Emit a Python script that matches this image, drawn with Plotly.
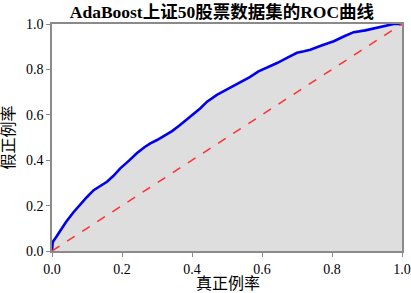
import plotly.graph_objects as go

fpr = [0.0, 0.0, 0.002, 0.012, 0.024, 0.040, 0.062, 0.086, 0.100, 0.119, 0.140, 0.157, 0.175,
       0.195, 0.220, 0.243, 0.265, 0.281, 0.300, 0.320, 0.343, 0.365, 0.386, 0.410, 0.424,
       0.443, 0.471, 0.500, 0.538, 0.565, 0.590, 0.615, 0.643, 0.670, 0.700, 0.720, 0.738,
       0.770, 0.805, 0.835, 0.862, 0.895, 0.929, 0.955, 0.976, 1.0]
tpr = [0.0, 0.030, 0.039, 0.062, 0.091, 0.128, 0.172, 0.216, 0.238, 0.268, 0.290, 0.305, 0.330,
       0.364, 0.398, 0.432, 0.458, 0.474, 0.489, 0.508, 0.528, 0.554, 0.580, 0.612, 0.629,
       0.658, 0.688, 0.712, 0.742, 0.766, 0.791, 0.808, 0.828, 0.850, 0.873, 0.880, 0.887,
       0.905, 0.924, 0.946, 0.964, 0.972, 0.983, 0.992, 1.0, 1.0]
diag = [0.0, 1.0]
ticks = [0.0, 0.2, 0.4, 0.6, 0.8, 1.0]
tick_text = ["0.0", "0.2", "0.4", "0.6", "0.8", "1.0"]
x_title = "真正例率"
y_title = "假正例率"
chart_title = "AdaBoost上证50股票数据集的ROC曲线"

serif = "Liberation Serif, Times New Roman, Noto Sans CJK SC, serif"

fig = go.Figure()
fig.add_trace(go.Scatter(x=fpr, y=tpr, mode="lines", fill="tozeroy",
                         fillcolor="#dedede", line=dict(color="#0000ee", width=2.6),
                         showlegend=False))
fig.add_trace(go.Scatter(x=diag, y=diag, mode="lines",
                         line=dict(color="#ff3030", width=1.5, dash="dash"),
                         showlegend=False))

axis_common = dict(range=[0, 1], tickvals=ticks, ticktext=tick_text, showgrid=False,
                   zeroline=False, showline=True, linecolor="#8a8a8a", linewidth=1.5,
                   mirror=True, ticks="outside", ticklen=4, tickcolor="#8a8a8a",
                   automargin=False,
                   tickfont=dict(family=serif, size=14, color="black"))

fig.update_layout(
    width=411, height=293,
    margin=dict(l=52, r=9, t=24, b=42),
    paper_bgcolor="white", plot_bgcolor="white",
    title=dict(text="<b>" + chart_title + "</b>", x=0.54, xanchor="center",
               y=0.958, yanchor="middle",
               font=dict(family=serif, size=17.5, color="black")),
    xaxis=axis_common,
    yaxis=axis_common,
    annotations=[
        dict(text=x_title, xref="paper", yref="paper", x=0.503, y=-0.143,
             xanchor="center", yanchor="middle", showarrow=False,
             font=dict(family=serif, size=16, color="black")),
        dict(text=y_title, xref="paper", yref="paper", x=-0.123, y=0.5,
             xanchor="center", yanchor="middle", showarrow=False, textangle=-90,
             font=dict(family=serif, size=16, color="black")),
    ],
)

fig.write_html("out.html", config={"displayModeBar": False},
               post_script="document.body.style.margin='0';document.body.style.overflow='hidden';")
